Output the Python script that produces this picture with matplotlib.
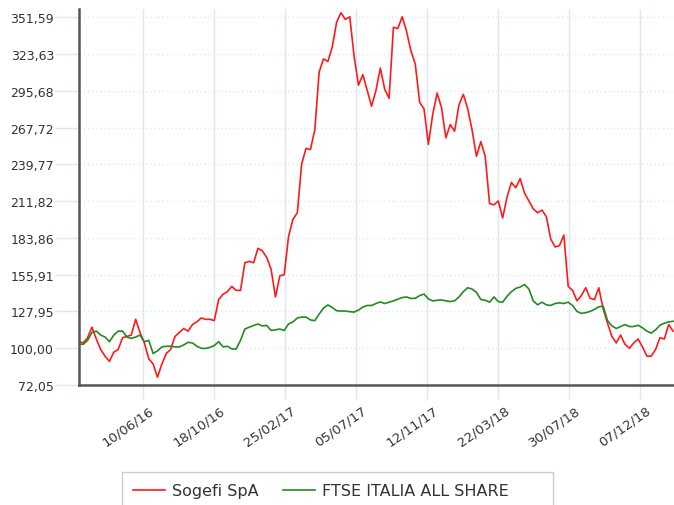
import matplotlib
matplotlib.use("Agg")
import matplotlib.pyplot as plt
import matplotlib.transforms as mtransforms
from matplotlib.patches import Rectangle
import pandas as pd

# one value every 8 days, starting at start_date (base 100)
start_date = "2016-02-13"
step_days = 8

sogefi = [105, 104, 108, 116, 107, 99, 94, 90, 97, 99,
          108, 109, 110, 122, 112, 104, 92, 88, 78, 88,
          96, 99, 109, 112, 115, 113, 118, 120, 123, 122,
          122, 121, 137, 141, 143, 147, 144, 144, 165, 166,
          165, 176, 174, 169, 160, 139, 155, 156, 185, 198,
          203, 240, 252, 251, 266, 310, 320, 318, 329, 348,
          355, 350, 352, 322, 300, 308, 296, 284, 296, 313,
          297, 290, 344, 343, 352, 341, 326, 316, 287, 282,
          255, 278, 294, 283, 260, 270, 265, 285, 293, 282,
          266, 246, 257, 246, 210, 209, 212, 199, 215, 226,
          222, 229, 218, 212, 206, 203, 205, 200, 183, 177,
          178, 186, 147, 144, 136, 140, 146, 138, 137, 146,
          130, 119, 109, 104, 110, 103, 100, 104, 107, 101,
          94, 94, 99, 108, 107, 118, 113]

ftse = [103, 103, 106, 112, 113, 110, 108.5, 105, 110, 113,
        113, 108.5, 107.5, 108.5, 110, 105, 106, 96, 98, 101,
        101.5, 101.5, 101, 101, 102.5, 104.5, 104, 101.5, 100, 99.8,
        100.7, 102, 105, 101, 101.5, 99.5, 99.4, 106, 114.6, 116,
        117.3, 118.4, 117, 117.3, 113.5, 114, 114.6, 113.5, 118.5, 120,
        123, 123.7, 123.7, 121.5, 121, 126, 130.5, 132.9, 131, 128.5,
        128.3, 128.3, 127.8, 127.5, 129, 131.3, 132.5, 132.5, 134, 135.2,
        134, 135, 136, 137.3, 138.5, 139, 137.8, 138, 140, 141.2,
        137.5, 136, 136.5, 136.7, 136, 135.5, 136, 139, 143, 146,
        145, 142.5, 137, 136.5, 135, 139, 135.5, 135, 139.5, 143,
        145.5, 146.5, 148.5, 145, 136, 133, 135, 133, 132.5, 134,
        134.5, 134, 135, 132.5, 128, 126.5, 127, 128, 129.5, 131.5,
        132, 121, 117, 115, 116.5, 118, 116.5, 116.5, 117.5, 115.5,
        113, 111.5, 114, 117.5, 119, 120, 120.5]

y_ticks = [72.05, 100.00, 127.95, 155.91, 183.86, 211.82,
           239.77, 267.72, 295.68, 323.63, 351.59]
x_tick_dates = ["2016-06-10", "2016-10-18", "2017-02-25", "2017-07-05",
                "2017-11-12", "2018-03-22", "2018-07-30", "2018-12-07"]
x_range = ["2016-02-13 07:00", "2019-02-06 17:00"]
y_range = [72.05, 357.9]

labels = ["Sogefi SpA", "FTSE ITALIA ALL SHARE"]
colors = ["#ff1a1a", "#228b22"]

dates = pd.date_range(start_date, periods=len(sogefi), freq=f"{step_days}D")

W, H = 674, 506
fig = plt.figure(figsize=(W / 100, H / 100), dpi=100)
ax = fig.add_axes([79 / W, 1 - 386 / H, (W - 79) / W, 376 / H])

ax.plot(dates, sogefi, color=colors[0], lw=1.2, label=labels[0])
ax.plot(dates, ftse, color=colors[1], lw=1.2, label=labels[1])

ax.set_xlim(pd.to_datetime(x_range[0]), pd.to_datetime(x_range[1]))
ax.set_ylim(*y_range)

grid_col = "#dbe7f6"
ax.set_yticks(y_ticks)
ax.set_yticklabels([f"{v:.2f}".replace(".", ",") for v in y_ticks])
xt = pd.to_datetime(x_tick_dates)
ax.set_xticks(xt)
ax.set_xticklabels([d.strftime("%d/%m/%y") for d in xt])

ax.grid(axis="x", color=grid_col, lw=1, ls="-")
ax.grid(axis="y", color=grid_col, lw=1, ls=(0, (1, 2)))
ax.set_axisbelow(True)

ax.tick_params(axis="y", length=17, width=1, color=grid_col, pad=1,
               labelsize=9, labelcolor="#333333")
ax.tick_params(axis="x", length=10, width=1, color=grid_col, pad=3,
               labelsize=9.5, labelcolor="#333333")
offset = mtransforms.ScaledTranslation(4 / 72, 0, fig.dpi_scale_trans)
for lab in ax.get_xticklabels():
    lab.set_rotation(35)
    lab.set_ha("right")
    lab.set_rotation_mode("anchor")
    lab.set_transform(lab.get_transform() + offset)

for s in ["top", "right"]:
    ax.spines[s].set_visible(False)
for s in ["left", "bottom"]:
    ax.spines[s].set_color("#555555")
    ax.spines[s].set_linewidth(1.8)

# legend box (runs off the bottom edge like the original)
fig.patches.append(Rectangle((122 / W, -0.02), (553 - 122) / W, 0.02 + (506 - 473) / H,
                             transform=fig.transFigure, fill=False,
                             edgecolor="#cccccc", lw=1))
fig.legend(loc="center left", bbox_to_anchor=(133 / W, 1 - 492 / H),
           ncol=2, frameon=False, fontsize=11.5, handlelength=2.0,
           handletextpad=0.45, columnspacing=1.5, borderpad=0, borderaxespad=0,
           labelcolor="#333333")

fig.savefig("out.png", dpi=100)
